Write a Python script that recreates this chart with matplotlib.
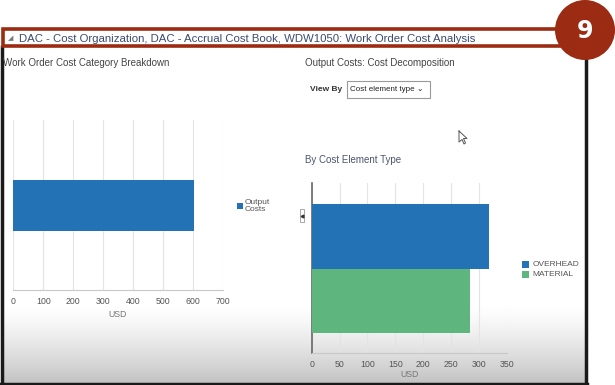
import numpy as np
import matplotlib
matplotlib.use("Agg")
import matplotlib.pyplot as plt
from matplotlib.patches import Rectangle, Circle

plt.rcParams['font.family'] = ['Liberation Sans', 'DejaVu Sans']

# ---- data ----
header_title = "DAC - Cost Organization, DAC - Accrual Cost Book, WDW1050: Work Order Cost Analysis"
left_title = "Work Order Cost Category Breakdown"
right_title = "Output Costs: Cost Decomposition"
right_sub = "By Cost Element Type"
left_categories = ["Output Costs"]
left_values = [604]
left_ticks = [0, 100, 200, 300, 400, 500, 600, 700]
right_categories = ["OVERHEAD", "MATERIAL"]
right_values = [319, 285]
right_ticks = [0, 50, 100, 150, 200, 250, 300, 350]
axis_label = "USD"

W, H = 615, 385
fig = plt.figure(figsize=(W / 100, H / 100), dpi=100)
fig.patch.set_facecolor("white")

def rect(x0, y0, x1, y1):
    return [x0 / W, 1 - y1 / H, (x1 - x0) / W, (y1 - y0) / H]

# background overlay axes in pixel coords
bg = fig.add_axes([0, 0, 1, 1])
bg.set_xlim(0, W)
bg.set_ylim(H, 0)
bg.axis("off")
bg.set_zorder(0)

# bottom gradient on screen area
grad = np.linspace(0, 1, 100).reshape(-1, 1) ** 1.3
cmap = matplotlib.colors.LinearSegmentedColormap.from_list("g", ["#ffffff", "#c4c4c4"])
bg.imshow(grad, cmap=cmap, extent=[2, 585, 383, 305], aspect="auto", zorder=0)

# screen borders
bg.plot([1.5, 1.5], [47, 384], color="#1a1a1a", lw=2.5, zorder=2)
bg.plot([585.5, 585.5], [55, 384], color="#1a1a1a", lw=2.5, zorder=2)
bg.plot([0, 586.5], [383.5, 383.5], color="#1a1a1a", lw=2.5, zorder=2)

# header box
red = "#9b2b12"
bg.add_patch(Rectangle((3, 29), 570, 17, facecolor="white", edgecolor=red, lw=2.6, zorder=3))
bg.add_patch(Circle((585, 30), 30, facecolor=red, edgecolor="none", zorder=4))
bg.text(585, 31, "9", color="white", fontsize=17, fontweight="bold",
        ha="center", va="center", zorder=5, family="DejaVu Sans")
bg.text(8, 38.5, "\u25e2", color="#777777", fontsize=5, ha="left", va="center", zorder=5,
        family="DejaVu Sans")
bg.text(19, 38.5, header_title, color="#3c4a6e", fontsize=8.2, ha="left", va="center", zorder=5)

# section titles
bg.text(3, 63, left_title, color="#444444", fontsize=7.0, ha="left", va="center")
bg.text(305, 63, right_title, color="#444444", fontsize=7.0, ha="left", va="center")
bg.text(305, 160, right_sub, color="#4a5570", fontsize=7.0, ha="left", va="center")

# view by dropdown
bg.text(310, 89.5, "View By", color="#333333", fontsize=6.0, fontweight="bold", ha="left", va="center")
bg.add_patch(Rectangle((347, 81), 83, 17, facecolor="white", edgecolor="#9a9a9a", lw=0.8))
bg.text(350, 89.5, "Cost element type \u2304", color="#222222", fontsize=5.8, ha="left", va="center",
        family=["Liberation Sans", "DejaVu Sans"])

# cursor
bg.plot([459, 459, 462, 464, 465.5, 463.5, 467, 459],
        [131, 142, 139.5, 144, 143, 138.5, 138.5, 131], color="#555555", lw=0.7)

# collapse widget
bg.add_patch(Rectangle((300, 209), 4, 13, facecolor="white", edgecolor="#999999", lw=0.6))
bg.plot([302], [215.5], marker="<", color="#333333", markersize=2)

blue = "#2372b6"
green = "#5fb57e"
grid_c = "#e4e4e4"
tick_c = "#555555"

# ---- left chart ----
ax1 = fig.add_axes(rect(13.3, 120, 222.7, 290))
ax1.patch.set_alpha(0)
ax1.barh([0], left_values, height=0.3, color=blue, zorder=3, label=left_categories[0])
ax1.set_xlim(0, 700)
ax1.set_ylim(-0.5, 0.5)
ax1.set_xticks(left_ticks)
ax1.set_yticks([])
ax1.grid(axis="x", color=grid_c, lw=0.8, zorder=0)
for s in ["top", "right", "left"]:
    ax1.spines[s].set_visible(False)
ax1.spines["bottom"].set_color("#c8c8c8")
ax1.tick_params(axis="x", length=0, pad=5, labelsize=6.3, labelcolor=tick_c)
ax1.set_xlabel(axis_label, fontsize=6.3, color="#777777", labelpad=3)

bg.add_patch(Rectangle((237, 202.5), 6, 6, facecolor=blue, edgecolor="none"))
bg.text(245, 206, "Output\nCosts", color="#555555", fontsize=6.0, ha="left", va="center", linespacing=0.85)

# ---- right chart ----
ax2 = fig.add_axes(rect(311.7, 183, 506.7, 353))
ax2.patch.set_alpha(0)
pos = [1, 0]
ax2.barh(pos, right_values, height=1.0, color=[blue, green], zorder=3)
ax2.set_xlim(0, 350)
ax2.set_ylim(-0.81, 1.83)
ax2.set_xticks(right_ticks)
ax2.set_yticks([])
ax2.grid(axis="x", color=grid_c, lw=0.8, zorder=0)
for s in ["top", "right"]:
    ax2.spines[s].set_visible(False)
ax2.spines["left"].set_color("#666666")
ax2.spines["left"].set_linewidth(1.2)
ax2.spines["bottom"].set_color("#c8c8c8")
ax2.tick_params(axis="x", length=0, pad=5, labelsize=6.3, labelcolor=tick_c)
ax2.set_xlabel(axis_label, fontsize=6.3, color="#777777", labelpad=1)

for i, (lab, col) in enumerate(zip(right_categories, [blue, green])):
    y = 264.5 + i * 10
    bg.add_patch(Rectangle((522, y - 3.5), 7, 7, facecolor=col, edgecolor="none"))
    bg.text(532.5, y, lab, color="#555555", fontsize=6.0, ha="left", va="center")

fig.savefig("out.png", dpi=100)
